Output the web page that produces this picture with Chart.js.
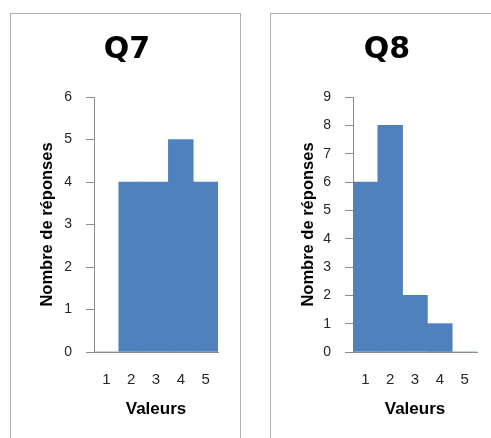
<!DOCTYPE html>
<html>
<head>
<meta charset="utf-8">
<script src="https://cdn.jsdelivr.net/npm/chart.js@4/dist/chart.umd.min.js"></script>
<style>
  html, body { margin:0; padding:0; background:#fff; width:491px; height:438px; overflow:hidden; }
  .panel { position:absolute; border:1px solid #b0b0b0; border-bottom:none; box-sizing:border-box; }
  canvas { position:absolute; }
</style>
</head>
<body>
<div class="panel" style="left:10px; top:13px; width:231px; height:430px;"></div>
<div class="panel" style="left:270px; top:13px; width:240px; height:430px;"></div>
<canvas id="c1" width="230" height="425" style="left:10px; top:13px;"></canvas>
<canvas id="c2" width="221" height="425" style="left:270px; top:13px;"></canvas>
<script>
// ---- data ----
const categories = ['1', '2', '3', '4', '5'];
const q7Values = [0, 4, 4, 5, 4];
const q8Values = [6, 8, 2, 1, 0];
const q7YMax = 6;
const q8YMax = 9;
const chartTitles = ['Q7', 'Q8'];
const yAxisTitle = 'Nombre de réponses';
const xAxisTitle = 'Valeurs';

// ---- styling ----
const barColor = '#4F81BD';
const axisColor = '#8c8c8c';
const textColor = '#262626';
const baseFont = 'Liberation Sans, Arial, sans-serif';

function makeChart(id, title, values, yMax, padLeft, padRight, yWidth) {
  return new Chart(document.getElementById(id), {
    type: 'bar',
    data: {
      labels: categories,
      datasets: [{
        data: values,
        backgroundColor: barColor,
        borderWidth: 0,
        barPercentage: 1,
        categoryPercentage: 1
      }]
    },
    options: {
      responsive: false,
      animation: false,
      events: [],
      layout: { padding: { left: padLeft, right: padRight, top: 0, bottom: 0 } },
      plugins: {
        legend: { display: false },
        tooltip: { enabled: false },
        title: {
          display: true,
          text: title,
          color: '#000',
          font: { family: 'DejaVu Sans', size: 30, weight: 'bold' },
          padding: { top: 19, bottom: 29 }
        }
      },
      scales: {
        x: {
          grid: { display: true, drawOnChartArea: false, drawTicks: false, color: axisColor },
          border: { display: true, color: axisColor, width: 1 },
          ticks: { padding: 19, color: textColor, font: { family: baseFont, size: 15 } },
          title: {
            display: true, text: xAxisTitle, color: '#000',
            font: { family: baseFont, size: 17, weight: 'bold' },
            padding: { top: 0, bottom: 18 }
          },
          afterFit: s => { s.height = 86; }
        },
        y: {
          min: 0, max: yMax,
          grid: { display: true, drawOnChartArea: false, drawTicks: true, tickLength: 8, color: axisColor },
          border: { display: true, color: axisColor, width: 1 },
          ticks: { stepSize: 1, padding: 14, color: textColor, font: { family: baseFont, size: 14 } },
          title: {
            display: true, text: yAxisTitle, color: '#000',
            font: { family: baseFont, size: 16.5, weight: 'bold' },
            padding: { top: 2, bottom: 0 }
          },
          afterFit: s => { s.width = yWidth; }
        }
      }
    }
  });
}

makeChart('c1', chartTitles[0], q7Values, q7YMax, 26, 22, 58);
makeChart('c2', chartTitles[1], q8Values, q8YMax, 27, 14, 56);
</script>
</body>
</html>
